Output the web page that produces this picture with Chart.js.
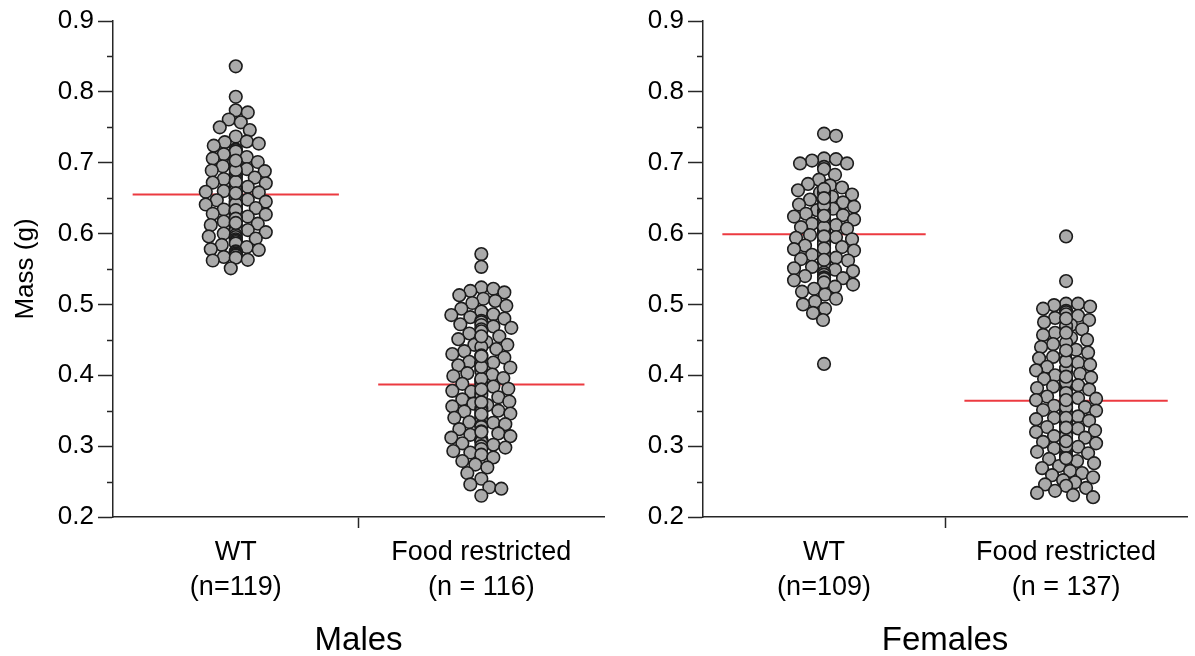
<!DOCTYPE html>
<html>
<head>
<meta charset="utf-8">
<title>Mass by group</title>
<script src="https://cdn.jsdelivr.net/npm/chart.js@4.4.1/dist/chart.umd.min.js"></script>
<style>
    body { margin: 0; background: #fff; }
    #wrap { position: relative; width: 1195px; height: 656px; background: #fff; }
    canvas { position: absolute; top: 0; }
</style>
</head>
<body>
<div id="wrap">
    <canvas id="males-chart" width="612" height="656" style="left:0"></canvas>
    <canvas id="females-chart" width="583" height="656" style="left:612px"></canvas>
</div>
<script>
const MALES_CATEGORIES = [['WT', '(n=119)'], ['Food restricted', '(n = 116)']];
const FEMALES_CATEGORIES = [['WT', '(n=109)'], ['Food restricted', '(n = 137)']];
const PANEL_TITLES = ['Males', 'Females'];

const MALES_WT = [
    0.836, 0.793, 0.774, 0.771, 0.761, 0.757, 0.750, 0.746, 0.737, 0.730,
    0.729, 0.727, 0.724, 0.719, 0.718, 0.716, 0.712, 0.708, 0.706, 0.701,
    0.700, 0.698, 0.698, 0.695, 0.691, 0.689, 0.688, 0.685, 0.684, 0.681,
    0.680, 0.679, 0.677, 0.676, 0.672, 0.671, 0.668, 0.667, 0.666, 0.665,
    0.663, 0.662, 0.660, 0.659, 0.658, 0.656, 0.655, 0.654, 0.653, 0.650,
    0.650, 0.648, 0.647, 0.646, 0.645, 0.645, 0.643, 0.641, 0.640, 0.638,
    0.637, 0.636, 0.634, 0.633, 0.631, 0.630, 0.630, 0.628, 0.627, 0.626,
    0.624, 0.623, 0.622, 0.620, 0.618, 0.617, 0.616, 0.614, 0.612, 0.611,
    0.609, 0.607, 0.605, 0.604, 0.602, 0.600, 0.598, 0.596, 0.595, 0.593,
    0.592, 0.590, 0.588, 0.586, 0.584, 0.581, 0.578, 0.577, 0.575, 0.574,
    0.572, 0.570, 0.569, 0.567, 0.566, 0.563, 0.562, 0.551, 0.664, 0.652,
    0.642, 0.633, 0.621, 0.661, 0.673, 0.690, 0.703, 0.615, 0.657
];
const MALES_FR = [
    0.571, 0.553, 0.524, 0.522, 0.519, 0.517, 0.513, 0.508, 0.505, 0.502,
    0.498, 0.494, 0.490, 0.486, 0.485, 0.482, 0.480, 0.477, 0.475, 0.472,
    0.471, 0.469, 0.467, 0.465, 0.462, 0.459, 0.455, 0.451, 0.447, 0.443,
    0.443, 0.440, 0.437, 0.434, 0.430, 0.428, 0.425, 0.422, 0.419, 0.418,
    0.417, 0.416, 0.416, 0.414, 0.411, 0.409, 0.406, 0.403, 0.401, 0.399,
    0.396, 0.393, 0.391, 0.388, 0.386, 0.384, 0.381, 0.378, 0.377, 0.375,
    0.372, 0.369, 0.366, 0.363, 0.360, 0.358, 0.356, 0.353, 0.350, 0.349,
    0.349, 0.346, 0.343, 0.340, 0.338, 0.336, 0.334, 0.333, 0.331, 0.329,
    0.327, 0.324, 0.321, 0.318, 0.316, 0.314, 0.312, 0.310, 0.308, 0.306,
    0.304, 0.302, 0.300, 0.298, 0.296, 0.293, 0.291, 0.288, 0.284, 0.279,
    0.274, 0.270, 0.262, 0.254, 0.246, 0.242, 0.240, 0.230, 0.395, 0.362,
    0.345, 0.412, 0.455, 0.320, 0.380, 0.427
];
const FEMALES_WT = [
    0.741, 0.738, 0.706, 0.705, 0.703, 0.699, 0.699, 0.694, 0.691, 0.683,
    0.676, 0.670, 0.668, 0.665, 0.661, 0.658, 0.655, 0.652, 0.648, 0.646,
    0.644, 0.641, 0.638, 0.635, 0.633, 0.632, 0.630, 0.628, 0.626, 0.624,
    0.622, 0.620, 0.618, 0.616, 0.614, 0.612, 0.611, 0.609, 0.607, 0.606,
    0.604, 0.603, 0.601, 0.599, 0.598, 0.597, 0.595, 0.594, 0.592, 0.590,
    0.588, 0.587, 0.585, 0.584, 0.583, 0.581, 0.580, 0.578, 0.576, 0.574,
    0.572, 0.570, 0.568, 0.566, 0.564, 0.562, 0.560, 0.558, 0.555, 0.553,
    0.551, 0.549, 0.547, 0.545, 0.542, 0.540, 0.538, 0.538, 0.537, 0.536,
    0.534, 0.531, 0.528, 0.525, 0.522, 0.518, 0.514, 0.508, 0.504, 0.500,
    0.494, 0.488, 0.478, 0.416, 0.629, 0.615, 0.600, 0.586, 0.571, 0.657,
    0.640, 0.621, 0.609, 0.596, 0.579, 0.563, 0.663, 0.650, 0.625
];
const FEMALES_FR = [
    0.596, 0.533, 0.501, 0.501, 0.499, 0.497, 0.494, 0.491, 0.489, 0.486,
    0.484, 0.481, 0.478, 0.475, 0.471, 0.468, 0.465, 0.460, 0.457, 0.453,
    0.450, 0.446, 0.444, 0.440, 0.436, 0.432, 0.428, 0.426, 0.424, 0.421,
    0.418, 0.415, 0.412, 0.409, 0.407, 0.405, 0.402, 0.400, 0.397, 0.395,
    0.393, 0.391, 0.388, 0.386, 0.384, 0.382, 0.380, 0.378, 0.376, 0.374,
    0.372, 0.370, 0.368, 0.367, 0.365, 0.363, 0.363, 0.361, 0.359, 0.357,
    0.355, 0.353, 0.351, 0.350, 0.348, 0.346, 0.344, 0.342, 0.340, 0.338,
    0.336, 0.334, 0.333, 0.331, 0.329, 0.327, 0.325, 0.324, 0.322, 0.320,
    0.318, 0.317, 0.316, 0.314, 0.312, 0.310, 0.308, 0.306, 0.304, 0.302,
    0.301, 0.299, 0.297, 0.295, 0.294, 0.292, 0.290, 0.288, 0.285, 0.282,
    0.279, 0.276, 0.272, 0.269, 0.265, 0.262, 0.259, 0.256, 0.252, 0.249,
    0.246, 0.244, 0.241, 0.237, 0.234, 0.231, 0.228, 0.390, 0.375, 0.360,
    0.345, 0.330, 0.315, 0.300, 0.410, 0.420, 0.435, 0.470, 0.480, 0.355,
    0.340, 0.326, 0.307, 0.283, 0.365, 0.398, 0.460
];
const MALES_MEANS = [0.655, 0.387];
const FEMALES_MEANS = [0.599, 0.364];

const Y_MIN = 0.2;
const Y_MAX = 0.9;

const AXIS_COLOR = '#262626';
const POINT_FILL = '#aaaaaa';
const POINT_EDGE = '#1c1c1c';
const MEAN_COLOR = '#ec3a40';
const FONT = '"Liberation Sans", Arial, Helvetica, sans-serif';

const MEAN_HALF_WIDTH = 0.42; // in category units
const SWARM_GAP = 11.5;       // px between point centres before overlap is allowed
const SWARM_SPREAD = 30;      // px max sideways offset

Chart.defaults.font.family = FONT;
Chart.defaults.color = '#000';

const isMajor = v => Math.abs(v * 10 - Math.round(v * 10)) < 1e-6;

// short ticks at the half steps on the y axis
const minorTicks = {
    id: 'minorTicks',
    afterDraw(chart) {
        const y = chart.scales.y;
        const ctx = chart.ctx;
        ctx.save();
        ctx.strokeStyle = AXIS_COLOR;
        ctx.lineWidth = 1.5;
        y.ticks.forEach(t => {
            if (isMajor(t.value)) return;
            const py = Math.round(y.getPixelForValue(t.value)) + 0.5;
            ctx.beginPath();
            ctx.moveTo(y.right - 6, py);
            ctx.lineTo(y.right, py);
            ctx.stroke();
        });
        ctx.restore();
    }
};

// simple beeswarm: nearest free slot to the centre, else stack on the centre
function swarm(values, center, chart) {
    const xs = chart.scales.x, ys = chart.scales.y;
    const cx = xs.getPixelForValue(center);
    const placed = [];
    return values.map((v, i) => {
        const py = ys.getPixelForValue(v);
        let dx = 0;
        search:
        for (let k = 0; k <= SWARM_SPREAD; k++) {
            const tries = k === 0 ? [0] : (i % 2 ? [k, -k] : [-k, k]);
            for (const t of tries) {
                const free = placed.every(p => Math.hypot(p.x - (cx + t), p.y - py) >= SWARM_GAP);
                if (free) { dx = t; break search; }
            }
        }
        placed.push({ x: cx + dx, y: py });
        return { x: xs.getValueForPixel(cx + dx), y: v };
    });
}

function buildPanel(canvasId, categories, groups, means, title, yTitle, yWidth, padding) {
    const ctx = document.getElementById(canvasId).getContext('2d');
    const pointSets = groups.map((vals, i) => ({
        data: vals.map(v => ({ x: i, y: v })),
        pointRadius: 6.3,
        pointBackgroundColor: POINT_FILL,
        pointBorderColor: POINT_EDGE,
        pointBorderWidth: 1.6,
        showLine: false,
        order: 1
    }));
    const meanSets = means.map((m, i) => ({
        data: [{ x: i - MEAN_HALF_WIDTH, y: m }, { x: i + MEAN_HALF_WIDTH, y: m }],
        showLine: true,
        borderColor: MEAN_COLOR,
        borderWidth: 2,
        pointRadius: 0,
        order: 2
    }));

    const chart = new Chart(ctx, {
        type: 'scatter',
        data: { datasets: [...pointSets, ...meanSets] },
        options: {
            responsive: false,
            animation: false,
            events: [],
            layout: { padding },
            plugins: { legend: { display: false }, tooltip: { enabled: false } },
            scales: {
                x: {
                    type: 'linear',
                    min: -0.5,
                    max: 1.5,
                    afterBuildTicks: axis => { axis.ticks = [0, 0.5, 1].map(value => ({ value })); },
                    afterFit: axis => { axis.height = 139; },
                    border: { display: true, color: AXIS_COLOR, width: 1.5 },
                    grid: {
                        drawOnChartArea: false,
                        tickLength: 11,
                        tickWidth: 1.5,
                        tickColor: c => (c.tick && c.tick.value === 0.5 ? AXIS_COLOR : 'rgba(0,0,0,0)')
                    },
                    ticks: {
                        autoSkip: false,
                        maxRotation: 0,
                        minRotation: 0,
                        padding: 7,
                        font: { size: 27, lineHeight: 1.3 },
                        callback: value => (value === 0 ? categories[0] : value === 1 ? categories[1] : '')
                    },
                    title: {
                        display: true,
                        text: title,
                        font: { size: 33, lineHeight: 0.93 },
                        padding: 0
                    }
                },
                y: {
                    min: Y_MIN,
                    max: Y_MAX,
                    afterFit: axis => { axis.width = yWidth; },
                    border: { display: true, color: AXIS_COLOR, width: 1.5 },
                    grid: {
                        drawOnChartArea: false,
                        tickLength: 15,
                        tickWidth: 1.5,
                        tickColor: c => (c.tick && isMajor(c.tick.value) ? AXIS_COLOR : 'rgba(0,0,0,0)')
                    },
                    ticks: {
                        stepSize: 0.05,
                        autoSkip: false,
                        padding: 4,
                        font: { size: 26 },
                        callback: value => (isMajor(value) ? value.toFixed(1) : '')
                    },
                    title: {
                        display: !!yTitle,
                        text: yTitle,
                        font: { size: 26 },
                        padding: { top: 10, bottom: 0 }
                    }
                }
            }
        },
        plugins: [minorTicks]
    });

    groups.forEach((vals, i) => { chart.data.datasets[i].data = swarm(vals, i, chart); });
    chart.update('none');
    return chart;
}

buildPanel('males-chart', MALES_CATEGORIES, [MALES_WT, MALES_FR], MALES_MEANS,
    PANEL_TITLES[0], 'Mass (g)', 113, { top: 21, right: 3, left: 0, bottom: 0 });
buildPanel('females-chart', FEMALES_CATEGORIES, [FEMALES_WT, FEMALES_FR], FEMALES_MEANS,
    PANEL_TITLES[1], '', 91, { top: 21, right: 0, left: 0, bottom: 0 });
</script>
</body>
</html>
